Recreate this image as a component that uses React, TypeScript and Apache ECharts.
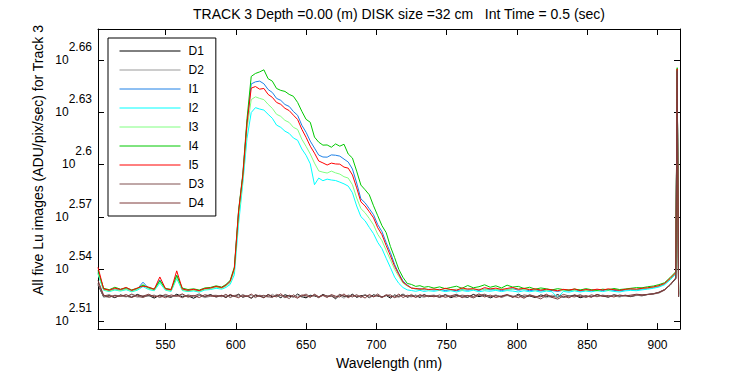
import React, { useEffect, useRef } from "react";
import * as echarts from "echarts";

const FONT = "'Liberation Sans', Arial, Helvetica, sans-serif";

const TITLE = "TRACK 3 Depth =0.00 (m) DISK size =32 cm   Int Time = 0.5 (sec)";
const X_NAME = "Wavelength (nm)";
const Y_NAME = "All five Lu images (ADU/pix/sec) for Track 3";

const X_MIN = 502;
const X_MAX = 916;
const Y_MIN = 2.5056;
const Y_MAX = 2.6777;

const xTicks = [550, 600, 650, 700, 750, 800, 850, 900];
// log10 exponents of the tick values (labels read 10^2.51 ... 10^2.66)
const yTicks = [2.51, 2.54, 2.57, 2.6, 2.63, 2.66];

const wavelengths = [
  502, 506, 510, 514, 518, 522, 526, 530, 534, 538, 542, 546, 550, 554, 558, 562, 566, 570, 574, 578, 582, 586,
  590, 593, 596, 599, 602, 605, 608, 611, 614, 617, 620, 623, 626, 629, 632, 635, 638, 641, 644, 647, 650, 653,
  656, 659, 662, 665, 668, 671, 674, 677, 680, 683, 686, 689, 692, 695, 698, 701, 704, 707, 710, 713, 716, 719,
  722, 725, 728, 731, 734, 737,
  741, 745, 749, 753, 757, 761, 765, 769, 773, 777, 781, 785, 789, 793, 797, 801, 805, 809, 813, 817, 821, 825,
  829, 833, 837, 841, 845, 849, 853, 857, 861, 865, 869, 873, 877, 881, 885, 889, 893, 897, 901, 905, 909, 913,
  914, 915,
];

// values are log10(ADU/pix/sec)
const D1 = [
  2.5310, 2.5240, 2.5248, 2.5236, 2.5252, 2.5244, 2.5239, 2.5255, 2.5242, 2.5249, 2.5234, 2.5251, 2.5245, 2.5238, 2.5256, 2.5241, 2.5247, 2.5233, 2.5250, 2.5243, 2.5254, 2.5240,
  2.5248, 2.5237, 2.5252, 2.5243, 2.5256, 2.5239, 2.5246, 2.5233, 2.5251, 2.5244, 2.5238, 2.5254, 2.5241, 2.5249, 2.5236, 2.5253, 2.5245, 2.5240, 2.5257, 2.5242,
  2.5235, 2.5250, 2.5246, 2.5239, 2.5255, 2.5243, 2.5248, 2.5230, 2.5252, 2.5244, 2.5241, 2.5256, 2.5238, 2.5247, 2.5251, 2.5236, 2.5253, 2.5245, 2.5240, 2.5249,
  2.5234, 2.5252, 2.5243, 2.5257, 2.5239, 2.5246, 2.5250, 2.5237, 2.5254, 2.5242,
  2.5247, 2.5240, 2.5253, 2.5236, 2.5249, 2.5244, 2.5238, 2.5255, 2.5242, 2.5250, 2.5235, 2.5248, 2.5243, 2.5251, 2.5239, 2.5256, 2.5241, 2.5246, 2.5237, 2.5252,
  2.5244, 2.5240, 2.5254, 2.5238, 2.5247, 2.5250, 2.5236, 2.5245, 2.5241, 2.5253, 2.5246, 2.5239, 2.5251, 2.5244, 2.5248, 2.5242, 2.5250, 2.5247, 2.5255, 2.5258,
  2.5266, 2.5282, 2.5308, 2.5345,
  2.6530, 2.5240,
];
const D2 = [
  2.5315, 2.5243, 2.5237, 2.5251, 2.5246, 2.5240, 2.5254, 2.5238, 2.5247, 2.5243, 2.5252, 2.5236, 2.5249, 2.5241, 2.5246, 2.5253, 2.5239, 2.5245, 2.5250, 2.5236, 2.5244, 2.5248,
  2.5241, 2.5252, 2.5237, 2.5247, 2.5240, 2.5255, 2.5243, 2.5249, 2.5236, 2.5251, 2.5245, 2.5239, 2.5256, 2.5242, 2.5248, 2.5235, 2.5250, 2.5243, 2.5253, 2.5238,
  2.5246, 2.5241, 2.5254, 2.5237, 2.5249, 2.5244, 2.5251, 2.5239, 2.5247, 2.5233, 2.5253, 2.5242, 2.5248, 2.5240, 2.5255, 2.5238, 2.5246, 2.5250, 2.5236, 2.5252,
  2.5243, 2.5249, 2.5237, 2.5254, 2.5245, 2.5240, 2.5251, 2.5244, 2.5238, 2.5247,
  2.5252, 2.5238, 2.5246, 2.5241, 2.5255, 2.5243, 2.5249, 2.5236, 2.5251, 2.5245, 2.5240, 2.5253, 2.5237, 2.5248, 2.5244, 2.5250, 2.5239, 2.5254, 2.5242, 2.5246,
  2.5236, 2.5251, 2.5245, 2.5240, 2.5249, 2.5243, 2.5255, 2.5238, 2.5247, 2.5241, 2.5252, 2.5244, 2.5248, 2.5239, 2.5251, 2.5246, 2.5248, 2.5251, 2.5254, 2.5257,
  2.5262, 2.5279, 2.5309, 2.5347,
  2.6532, 2.5243,
];
const I1 = [
  2.5380, 2.5283, 2.5276, 2.5285, 2.5279, 2.5288, 2.5275, 2.5286, 2.5325, 2.5290, 2.5281, 2.5338, 2.5284, 2.5278, 2.5362, 2.5282, 2.5276, 2.5281, 2.5274, 2.5286, 2.5289, 2.5298,
  2.5292, 2.5306, 2.5328, 2.5400, 2.5728, 2.5934, 2.6240, 2.6462, 2.6474, 2.6478, 2.6463, 2.6430, 2.6413, 2.6379, 2.6368, 2.6344, 2.6333, 2.6304, 2.6282, 2.6225,
  2.6185, 2.6134, 2.6094, 2.6054, 2.6043, 2.6042, 2.6055, 2.6053, 2.6048, 2.6031, 2.6014, 2.5974, 2.5894, 2.5803, 2.5780, 2.5746, 2.5712, 2.5655, 2.5615, 2.5552,
  2.5495, 2.5427, 2.5375, 2.5331, 2.5309, 2.5292, 2.5286, 2.5288, 2.5281, 2.5284,
  2.5280, 2.5284, 2.5277, 2.5282, 2.5276, 2.5283, 2.5279, 2.5285, 2.5278, 2.5286, 2.5281, 2.5284, 2.5277, 2.5283, 2.5288, 2.5279, 2.5284, 2.5276, 2.5281, 2.5275,
  2.5280, 2.5277, 2.5272, 2.5279, 2.5275, 2.5281, 2.5274, 2.5279, 2.5276, 2.5281, 2.5277, 2.5282, 2.5278, 2.5275, 2.5280, 2.5283, 2.5281, 2.5286, 2.5289, 2.5294,
  2.5301, 2.5314, 2.5342, 2.5376,
  2.6545, 2.5252,
];
const I2 = [
  2.5370, 2.5279, 2.5271, 2.5280, 2.5274, 2.5282, 2.5270, 2.5279, 2.5300, 2.5283, 2.5276, 2.5320, 2.5279, 2.5272, 2.5345, 2.5277, 2.5271, 2.5275, 2.5268, 2.5280, 2.5283, 2.5290,
  2.5285, 2.5295, 2.5312, 2.5368, 2.5660, 2.5890, 2.6150, 2.6298, 2.6326, 2.6318, 2.6312, 2.6288, 2.6265, 2.6226, 2.6213, 2.6191, 2.6178, 2.6152, 2.6139, 2.6089,
  2.6053, 2.6004, 2.5884, 2.5922, 2.5907, 2.5916, 2.5911, 2.5908, 2.5899, 2.5889, 2.5876, 2.5838, 2.5762, 2.5701, 2.5677, 2.5639, 2.5603, 2.5553, 2.5517, 2.5462,
  2.5409, 2.5354, 2.5318, 2.5294, 2.5281, 2.5277, 2.5273, 2.5278, 2.5272, 2.5276,
  2.5273, 2.5278, 2.5271, 2.5276, 2.5269, 2.5277, 2.5272, 2.5279, 2.5270, 2.5276, 2.5273, 2.5278, 2.5271, 2.5277, 2.5274, 2.5269, 2.5276, 2.5270, 2.5275, 2.5268,
  2.5274, 2.5270, 2.5236, 2.5272, 2.5268, 2.5275, 2.5269, 2.5274, 2.5270, 2.5276, 2.5271, 2.5277, 2.5272, 2.5269, 2.5275, 2.5278, 2.5276, 2.5281, 2.5285, 2.5290,
  2.5297, 2.5310, 2.5338, 2.5372,
  2.6543, 2.5250,
];
const I3 = [
  2.5375, 2.5281, 2.5274, 2.5283, 2.5277, 2.5285, 2.5273, 2.5283, 2.5312, 2.5287, 2.5279, 2.5330, 2.5282, 2.5276, 2.5355, 2.5280, 2.5274, 2.5279, 2.5272, 2.5284, 2.5287, 2.5296,
  2.5290, 2.5302, 2.5322, 2.5390, 2.5700, 2.5912, 2.6205, 2.6372, 2.6388, 2.6379, 2.6372, 2.6345, 2.6322, 2.6288, 2.6276, 2.6253, 2.6241, 2.6213, 2.6201, 2.6145,
  2.6104, 2.6060, 2.6008, 2.5963, 2.5956, 2.5951, 2.5962, 2.5952, 2.5945, 2.5930, 2.5922, 2.5884, 2.5808, 2.5747, 2.5723, 2.5690, 2.5654, 2.5599, 2.5563, 2.5507,
  2.5454, 2.5399, 2.5358, 2.5319, 2.5303, 2.5292, 2.5287, 2.5283, 2.5286, 2.5281,
  2.5284, 2.5280, 2.5287, 2.5281, 2.5285, 2.5279, 2.5288, 2.5282, 2.5286, 2.5280, 2.5289, 2.5283, 2.5287, 2.5281, 2.5285, 2.5290, 2.5282, 2.5286, 2.5280, 2.5284,
  2.5278, 2.5283, 2.5279, 2.5276, 2.5282, 2.5278, 2.5283, 2.5277, 2.5281, 2.5276, 2.5283, 2.5279, 2.5284, 2.5280, 2.5283, 2.5286, 2.5284, 2.5289, 2.5291, 2.5296,
  2.5303, 2.5316, 2.5344, 2.5378,
  2.6546, 2.5254,
];
const I4 = [
  2.5392, 2.5290, 2.5282, 2.5296, 2.5285, 2.5293, 2.5281, 2.5290, 2.5308, 2.5294, 2.5286, 2.5333, 2.5289, 2.5284, 2.5365, 2.5291, 2.5283, 2.5287, 2.5280, 2.5292, 2.5295, 2.5304,
  2.5297, 2.5312, 2.5335, 2.5412, 2.5738, 2.5945, 2.6262, 2.6505, 2.6522, 2.6531, 2.6543, 2.6492, 2.6478, 2.6436, 2.6425, 2.6419, 2.6402, 2.6391, 2.6356, 2.6305,
  2.6259, 2.6242, 2.6157, 2.6128, 2.6111, 2.6112, 2.6099, 2.6118, 2.6105, 2.6116, 2.6060, 2.6037, 2.5962, 2.5882, 2.5855, 2.5826, 2.5763, 2.5706, 2.5649, 2.5609,
  2.5530, 2.5466, 2.5398, 2.5352, 2.5318, 2.5312, 2.5301, 2.5305, 2.5296, 2.5300,
  2.5291, 2.5298, 2.5288, 2.5295, 2.5302, 2.5290, 2.5306, 2.5293, 2.5299, 2.5310, 2.5296, 2.5304, 2.5292, 2.5308, 2.5297, 2.5301, 2.5289, 2.5296, 2.5285, 2.5292,
  2.5287, 2.5281, 2.5288, 2.5283, 2.5279, 2.5286, 2.5280, 2.5288, 2.5282, 2.5278, 2.5285, 2.5281, 2.5289, 2.5283, 2.5286, 2.5290, 2.5294, 2.5293, 2.5299, 2.5303,
  2.5311, 2.5322, 2.5352, 2.5385,
  2.6555, 2.5260,
];
const I5 = [
  2.5410, 2.5287, 2.5279, 2.5291, 2.5283, 2.5295, 2.5278, 2.5292, 2.5302, 2.5297, 2.5284, 2.5355, 2.5288, 2.5281, 2.5390, 2.5286, 2.5279, 2.5284, 2.5277, 2.5289, 2.5292, 2.5301,
  2.5294, 2.5308, 2.5330, 2.5405, 2.5730, 2.5935, 2.6238, 2.6438, 2.6447, 2.6432, 2.6436, 2.6402, 2.6385, 2.6356, 2.6345, 2.6322, 2.6309, 2.6283, 2.6258, 2.6202,
  2.6156, 2.6105, 2.6065, 2.6020, 2.6009, 2.5997, 2.6008, 2.6003, 2.6002, 2.5985, 2.5979, 2.5940, 2.5866, 2.5786, 2.5762, 2.5729, 2.5694, 2.5637, 2.5597, 2.5535,
  2.5477, 2.5416, 2.5369, 2.5325, 2.5306, 2.5291, 2.5289, 2.5285, 2.5288, 2.5283,
  2.5286, 2.5281, 2.5290, 2.5283, 2.5279, 2.5292, 2.5285, 2.5288, 2.5280, 2.5294, 2.5286, 2.5291, 2.5283, 2.5289, 2.5295, 2.5284, 2.5290, 2.5282, 2.5287, 2.5279,
  2.5285, 2.5281, 2.5276, 2.5284, 2.5280, 2.5286, 2.5277, 2.5283, 2.5279, 2.5285, 2.5280, 2.5287, 2.5282, 2.5278, 2.5284, 2.5287, 2.5285, 2.5290, 2.5293, 2.5298,
  2.5305, 2.5318, 2.5347, 2.5380,
  2.6548, 2.5255,
];
const D3 = [
  2.5320, 2.5246, 2.5253, 2.5239, 2.5250, 2.5242, 2.5257, 2.5244, 2.5237, 2.5251, 2.5247, 2.5240, 2.5255, 2.5243, 2.5249, 2.5236, 2.5252, 2.5245, 2.5258, 2.5241, 2.5248, 2.5250,
  2.5243, 2.5256, 2.5238, 2.5249, 2.5252, 2.5240, 2.5247, 2.5235, 2.5254, 2.5245, 2.5250, 2.5242, 2.5237, 2.5255, 2.5248, 2.5244, 2.5231, 2.5253, 2.5239, 2.5246,
  2.5257, 2.5241, 2.5250, 2.5236, 2.5252, 2.5247, 2.5243, 2.5238, 2.5256, 2.5245, 2.5249, 2.5240, 2.5254, 2.5237, 2.5251, 2.5246, 2.5242, 2.5258, 2.5239, 2.5248,
  2.5253, 2.5236, 2.5245, 2.5250, 2.5241, 2.5255, 2.5238, 2.5247, 2.5252, 2.5244,
  2.5249, 2.5237, 2.5254, 2.5243, 2.5240, 2.5251, 2.5246, 2.5235, 2.5250, 2.5256, 2.5242, 2.5248, 2.5239, 2.5253, 2.5245, 2.5236, 2.5252, 2.5247, 2.5241, 2.5229,
  2.5250, 2.5244, 2.5238, 2.5255, 2.5246, 2.5240, 2.5251, 2.5237, 2.5253, 2.5243, 2.5249, 2.5241, 2.5254, 2.5246, 2.5250, 2.5244, 2.5252, 2.5249, 2.5254, 2.5259,
  2.5268, 2.5283, 2.5312, 2.5348,
  2.6535, 2.5242,
];
const D4 = [
  2.5335, 2.5251, 2.5240, 2.5249, 2.5243, 2.5254, 2.5238, 2.5250, 2.5245, 2.5256, 2.5241, 2.5248, 2.5236, 2.5252, 2.5244, 2.5258, 2.5240, 2.5249, 2.5237, 2.5253, 2.5246, 2.5242,
  2.5250, 2.5239, 2.5255, 2.5244, 2.5236, 2.5251, 2.5243, 2.5257, 2.5240, 2.5248, 2.5235, 2.5253, 2.5246, 2.5241, 2.5259, 2.5238, 2.5250, 2.5244, 2.5233, 2.5252,
  2.5247, 2.5239, 2.5256, 2.5242, 2.5249, 2.5237, 2.5254, 2.5245, 2.5240, 2.5258, 2.5236, 2.5251, 2.5243, 2.5247, 2.5234, 2.5255, 2.5241, 2.5249, 2.5238, 2.5253,
  2.5244, 2.5240, 2.5257, 2.5237, 2.5250, 2.5246, 2.5239, 2.5254, 2.5243, 2.5248,
  2.5241, 2.5252, 2.5238, 2.5247, 2.5255, 2.5236, 2.5249, 2.5243, 2.5258, 2.5240, 2.5251, 2.5237, 2.5246, 2.5254, 2.5239, 2.5248, 2.5233, 2.5252, 2.5244, 2.5241,
  2.5256, 2.5238, 2.5228, 2.5245, 2.5235, 2.5253, 2.5242, 2.5248, 2.5239, 2.5255, 2.5243, 2.5249, 2.5240, 2.5252, 2.5246, 2.5251, 2.5256, 2.5253, 2.5255, 2.5258,
  2.5265, 2.5280, 2.5310, 2.5350,
  2.6540, 2.5245,
];

const seriesNames = ["D1", "D2", "I1", "I2", "I3", "I4", "I5", "D3", "D4"];
const seriesValues = [D1, D2, I1, I2, I3, I4, I5, D3, D4];
const seriesColors = ["#000000", "#999999", "#1e80e6", "#00ffff", "#80ff80", "#00c800", "#ff0000", "#805050", "#7f3a3a"];

function fmtExp(v: number): string {
  return String(Number(v.toFixed(2)));
}

export default function App() {
  const ref = useRef<HTMLDivElement | null>(null);

  useEffect(() => {
    document.body.style.margin = "0";
    if (!ref.current) return;
    const chart = echarts.init(ref.current, undefined, { renderer: "svg" });

    const axisLineStyle = { show: true, onZero: false, lineStyle: { color: "#000", width: 1 } };
    const tickStyleX = { show: true, inside: true, length: 6, customValues: xTicks, lineStyle: { color: "#000", width: 1 } };
    const tickStyleY = { show: true, inside: true, length: 6, customValues: yTicks, lineStyle: { color: "#000", width: 1 } };

    const option: any = {
      animation: false,
      backgroundColor: "#fff",
      grid: { left: 98, right: 70, top: 29, bottom: 44, containLabel: false },
      textStyle: { fontFamily: FONT },
      legend: {
        orient: "vertical",
        left: 108,
        top: 38,
        padding: [7, 12, 7, 11],
        itemWidth: 61,
        itemHeight: 14,
        itemGap: 7,
        borderColor: "#000",
        borderWidth: 1,
        borderRadius: 0,
        backgroundColor: "#fff",
        selectedMode: false,
        itemStyle: { opacity: 0, borderWidth: 0 },
        lineStyle: { width: 1 },
        textStyle: { fontSize: 12, color: "#000", fontFamily: FONT, padding: [0, 0, 0, 3] },
        data: seriesNames,
      },
      xAxis: [
        {
          type: "value",
          position: "bottom",
          min: X_MIN,
          max: X_MAX,
          splitLine: { show: false },
          axisLine: axisLineStyle,
          axisTick: tickStyleX,
          axisLabel: { show: true, customValues: xTicks, margin: 10, color: "#000", fontSize: 12, fontFamily: FONT },
          name: X_NAME,
          nameLocation: "middle",
          nameGap: 26,
          nameTextStyle: { fontSize: 14, color: "#000", fontFamily: FONT },
        },
        {
          type: "value",
          position: "top",
          min: X_MIN,
          max: X_MAX,
          splitLine: { show: false },
          axisLine: axisLineStyle,
          axisTick: tickStyleX,
          axisLabel: { show: false },
        },
      ],
      yAxis: [
        {
          type: "value",
          position: "left",
          min: Y_MIN,
          max: Y_MAX,
          splitLine: { show: false },
          axisLine: axisLineStyle,
          axisTick: tickStyleY,
          axisLabel: {
            show: true,
            customValues: yTicks,
            margin: 6,
            color: "#000",
            fontSize: 12,
            fontFamily: FONT,
            padding: [0, 0, 13, 0],
            formatter: (v: number) => "{sup|" + fmtExp(v) + "}\n{base|10}{ghost|" + fmtExp(v) + "}",
            rich: {
              sup: { fontSize: 12, lineHeight: 13, color: "#000", fontFamily: FONT },
              base: { fontSize: 12, lineHeight: 13, color: "#000", fontFamily: FONT },
              ghost: { fontSize: 12, lineHeight: 13, color: "rgba(0,0,0,0)", fontFamily: FONT },
            },
          },
        },
        {
          type: "value",
          position: "right",
          min: Y_MIN,
          max: Y_MAX,
          splitLine: { show: false },
          axisLine: axisLineStyle,
          axisTick: tickStyleY,
          axisLabel: { show: false },
        },
      ],
      graphic: [
        {
          type: "text",
          x: 399,
          y: 14,
          style: { text: TITLE, fontSize: 14, fontFamily: FONT, fill: "#000", align: "center", verticalAlign: "middle" },
        },
        {
          type: "text",
          x: 38,
          y: 160,
          rotation: Math.PI / 2,
          style: { text: Y_NAME, fontSize: 14, fontFamily: FONT, fill: "#000", align: "center", verticalAlign: "middle" },
        },
      ],
      series: seriesNames.map((name, k) => ({
        name,
        type: "line",
        xAxisIndex: 0,
        yAxisIndex: 0,
        symbol: "none",
        showSymbol: false,
        silent: true,
        emphasis: { disabled: true },
        lineStyle: { color: seriesColors[k], width: 1 },
        itemStyle: { color: seriesColors[k] },
        data: wavelengths.map((w, i) => [w, seriesValues[k][i]]),
      })),
    };

    chart.setOption(option);
    return () => chart.dispose();
  }, []);

  return <div ref={ref} style={{ position: "fixed", left: 0, top: 0, width: 750, height: 375 }} />;
}
